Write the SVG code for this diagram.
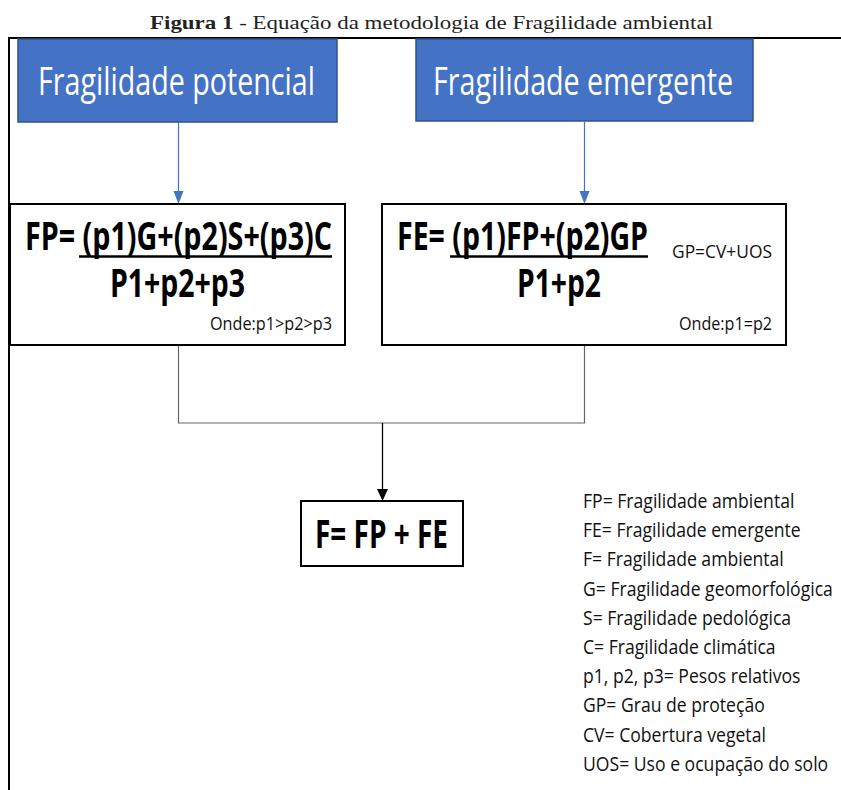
<svg xmlns="http://www.w3.org/2000/svg" width="841" height="790" viewBox="0 0 841 790">
<defs>
<style>
.title{font-family:"Liberation Serif","Times New Roman",serif;font-size:19px;fill:#222}
.blue{fill:#4472C4;stroke:#2F528F;stroke-width:1.5}
.bt{font-family:"Open Sans","Noto Sans",sans-serif;font-size:38px;fill:#fff}
.box{fill:#fff;stroke:#000;stroke-width:2}
.f{font-family:"Open Sans","Noto Sans",sans-serif;font-weight:700;font-size:39px;fill:#000}
.s{font-family:"Open Sans","Noto Sans",sans-serif;font-size:18.5px;fill:#111}
.lg{font-family:"Open Sans","Noto Sans",sans-serif;font-size:20px;fill:#111}
.ul{stroke:#000;stroke-width:2.5}
.bl{stroke:#4472C4;stroke-width:1.2;fill:none}
.gl{stroke:#666;stroke-width:1.2;fill:none}
</style>
</defs>
<rect width="841" height="790" fill="#fff"/>
<text class="title" x="150" y="29" textLength="563" lengthAdjust="spacingAndGlyphs"><tspan font-weight="700">Figura 1</tspan> - Equação da metodologia de Fragilidade ambiental</text>
<g id="frame"><path d="M9,790 L9,38 L841,38" fill="none" stroke="#000" stroke-width="2"/></g>

<g id="connectors">
<line class="bl" x1="178.5" y1="122" x2="178.5" y2="192"/>
<path d="M173.5,191 L183.5,191 L178.5,204 Z" fill="#4472C4"/>
<line class="bl" x1="584.5" y1="122" x2="584.5" y2="192"/>
<path d="M579.5,191 L589.5,191 L584.5,204 Z" fill="#4472C4"/>
<path class="gl" d="M178.5,346 L178.5,423 L584.5,423 L584.5,346"/>
<line x1="382.5" y1="423" x2="382.5" y2="490" stroke="#000" stroke-width="1.3"/>
<path d="M377,489 L388,489 L382.5,501 Z" fill="#000"/>
</g>

<g id="node-fp-title">
<rect class="blue" x="18" y="39" width="319" height="83"/>
<text class="bt" x="38" y="95" textLength="277" lengthAdjust="spacingAndGlyphs">Fragilidade potencial</text>
</g>
<g id="node-fe-title">
<rect class="blue" x="416" y="39" width="337" height="82"/>
<text class="bt" x="433" y="95" textLength="300" lengthAdjust="spacingAndGlyphs">Fragilidade emergente</text>
</g>

<g id="node-fp">
<rect class="box" x="10" y="204" width="335" height="141"/>
<text class="f" x="25" y="250" textLength="307" lengthAdjust="spacingAndGlyphs">FP= (p1)G+(p2)S+(p3)C</text>
<line class="ul" x1="79" y1="256.5" x2="332" y2="256.5"/>
<text class="f" x="110" y="297" textLength="135" lengthAdjust="spacingAndGlyphs">P1+p2+p3</text>
<text class="s" x="210" y="330" textLength="122" lengthAdjust="spacingAndGlyphs">Onde:p1&gt;p2&gt;p3</text>
</g>

<g id="node-fe">
<rect class="box" x="382" y="204" width="404" height="141"/>
<text class="f" x="397" y="250" textLength="251" lengthAdjust="spacingAndGlyphs">FE= (p1)FP+(p2)GP</text>
<line class="ul" x1="450" y1="256.5" x2="648" y2="256.5"/>
<text class="f" x="517" y="297" textLength="84" lengthAdjust="spacingAndGlyphs">P1+p2</text>
<text class="s" x="672" y="258" textLength="100" lengthAdjust="spacingAndGlyphs">GP=CV+UOS</text>
<text class="s" x="679" y="330" textLength="93" lengthAdjust="spacingAndGlyphs">Onde:p1=p2</text>
</g>

<g id="node-f">
<rect class="box" x="301" y="501" width="162" height="65"/>
<text class="f" x="315" y="548" font-size="36" textLength="133" lengthAdjust="spacingAndGlyphs">F= FP + FE</text>
</g>

<g id="legend" transform="translate(583,0) scale(0.88,1)">
<text class="lg" x="0" y="508">FP= Fragilidade ambiental</text>
<text class="lg" x="0" y="537.2">FE= Fragilidade emergente</text>
<text class="lg" x="0" y="566.4">F= Fragilidade ambiental</text>
<text class="lg" x="0" y="595.6">G= Fragilidade geomorfológica</text>
<text class="lg" x="0" y="624.8">S= Fragilidade pedológica</text>
<text class="lg" x="0" y="654">C= Fragilidade climática</text>
<text class="lg" x="0" y="683.2">p1, p2, p3= Pesos relativos</text>
<text class="lg" x="0" y="712.4">GP= Grau de proteção</text>
<text class="lg" x="0" y="741.6">CV= Cobertura vegetal</text>
<text class="lg" x="0" y="770.8">UOS= Uso e ocupação do solo</text>
</g>
</svg>
